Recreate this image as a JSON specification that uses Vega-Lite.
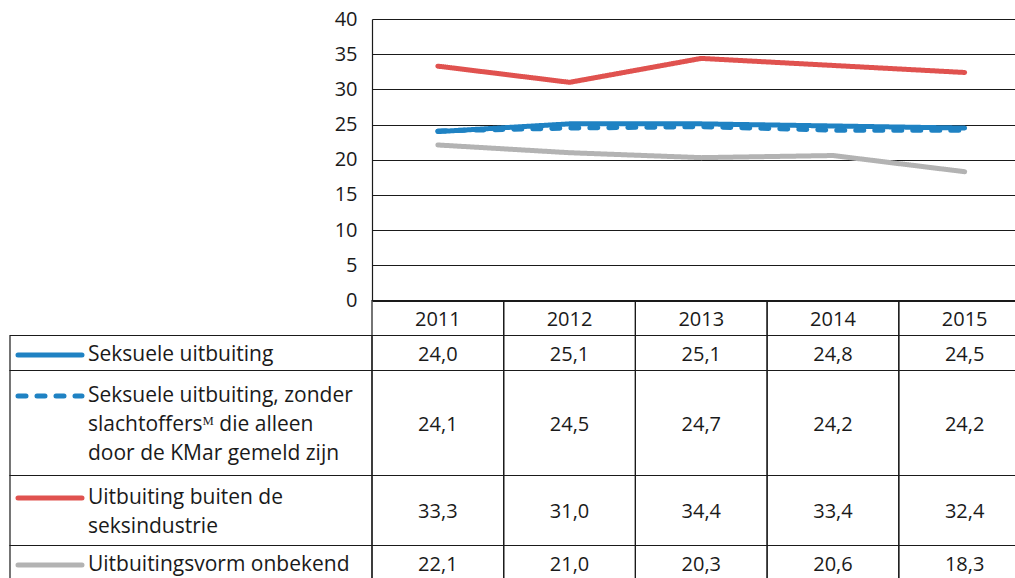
{
  "$schema": "https://vega.github.io/schema/vega-lite/v6.json",
  "width": 643,
  "height": 281.5,
  "autosize": "none",
  "padding": {"left": 372, "top": 19, "right": 0, "bottom": 277.5},
  "background": "white",
  "config": {
    "view": {"stroke": null},
    "locale": {"number": {"decimal": ",", "thousands": ".", "grouping": [3], "currency": ["€ ", ""]}},
    "text": {"font": "Open Sans", "fontSize": 20, "color": "#1a1a1a"}
  },
  "data": {
    "values": [
      {"order": 0, "key": "header", "lines": 1, "label": ""},
      {"order": 1, "key": "s1", "lines": 1, "label": ["Seksuele uitbuiting"], "2011": 24.0, "2012": 25.1, "2013": 25.1, "2014": 24.8, "2015": 24.5},
      {"order": 2, "key": "s2", "lines": 3, "label": ["Seksuele uitbuiting, zonder", "slachtoffersᴹ die alleen", "door de KMar gemeld zijn"], "2011": 24.1, "2012": 24.5, "2013": 24.7, "2014": 24.2, "2015": 24.2},
      {"order": 3, "key": "s3", "lines": 2, "label": ["Uitbuiting buiten de", "seksindustrie"], "2011": 33.3, "2012": 31.0, "2013": 34.4, "2014": 33.4, "2015": 32.4},
      {"order": 4, "key": "s4", "lines": 1, "label": ["Uitbuitingsvorm onbekend"], "2011": 22.1, "2012": 21.0, "2013": 20.3, "2014": 20.6, "2015": 18.3}
    ]
  },
  "transform": [
    {"window": [{"op": "sum", "field": "lines", "as": "end"}], "sort": [{"field": "order"}], "frame": [null, 0]},
    {"calculate": "datum.end - datum.lines", "as": "start"},
    {"calculate": "datum.end - datum.lines / 2", "as": "mid"},
    {"calculate": "datum.mid - (datum.lines - 1) * 29 / 35 / 2", "as": "first"},
    {"fold": ["2011", "2012", "2013", "2014", "2015"], "as": ["year_s", "value"]},
    {"calculate": "toNumber(datum.year_s)", "as": "year"},
    {"calculate": "datum.year - 0.5", "as": "x0"},
    {"calculate": "datum.year + 0.5", "as": "x1"}
  ],
  "layer": [
    {
      "layer": [
        {
          "transform": [{"filter": "datum.order >= 1"}],
          "mark": {"type": "line", "strokeWidth": 5, "strokeCap": "round", "strokeJoin": "round"},
          "encoding": {
            "x": {"field": "year", "type": "quantitative", "scale": {"domain": [2010.5, 2015.3823], "nice": false, "zero": false}, "axis": null},
            "y": {
              "field": "value", "type": "quantitative",
              "scale": {"domain": [0, 40], "nice": false, "zero": false},
              "axis": {
                "values": [0, 5, 10, 15, 20, 25, 30, 35, 40],
                "grid": true, "gridColor": "#1a1a1a", "gridWidth": 1.2, "gridOpacity": 1,
                "domain": true, "domainColor": "#1a1a1a", "domainWidth": 1.2,
                "ticks": false, "tickSize": 0, "labelPadding": 15,
                "labelFont": "Open Sans", "labelFontSize": 20, "labelColor": "#1a1a1a",
                "title": null
              }
            },
            "color": {"field": "key", "type": "nominal", "scale": {"domain": ["s1", "s2", "s3", "s4"], "range": ["#1f82c3", "#1f82c3", "#e0524f", "#b3b3b3"]}, "legend": null},
            "strokeDash": {"field": "key", "type": "nominal", "scale": {"domain": ["s1", "s2", "s3", "s4"], "range": [[1, 0], [8, 11], [1, 0], [1, 0]]}, "legend": null},
            "order": {"field": "year", "type": "quantitative"}
          }
        }
      ]
    },
    {
      "layer": [
        {
          "mark": {"type": "rect", "fill": "white", "fillOpacity": 0, "stroke": "#1a1a1a", "strokeWidth": 1.2},
          "encoding": {
            "x": {"field": "x0", "type": "quantitative", "scale": {"domain": [2010.5, 2015.3823], "nice": false, "zero": false}, "axis": null},
            "x2": {"field": "x1"},
            "y": {"field": "start", "type": "quantitative", "scale": {"domain": [-8.0429, 0], "reverse": true, "nice": false, "zero": false}, "axis": null},
            "y2": {"field": "end"}
          }
        },
        {
          "transform": [{"filter": "datum.order >= 1 && datum.year == 2011"}],
          "mark": {"type": "rect", "fill": "white", "fillOpacity": 0, "stroke": "#1a1a1a", "strokeWidth": 1.2},
          "encoding": {
            "x": {"datum": 2007.7513, "type": "quantitative"},
            "x2": {"datum": 2010.5},
            "y": {"field": "start", "type": "quantitative", "axis": null},
            "y2": {"field": "end"}
          }
        },
        {
          "transform": [{"filter": "datum.order == 0"}],
          "mark": {"type": "text", "align": "center", "baseline": "middle", "dy": 2},
          "encoding": {
            "x": {"field": "year", "type": "quantitative"},
            "y": {"field": "mid", "type": "quantitative", "axis": null},
            "text": {"field": "year_s"}
          }
        },
        {
          "transform": [{"filter": "datum.order >= 1"}],
          "mark": {"type": "text", "align": "center", "baseline": "middle", "dy": 2},
          "encoding": {
            "x": {"field": "year", "type": "quantitative"},
            "y": {"field": "mid", "type": "quantitative", "axis": null},
            "text": {"field": "value", "type": "quantitative", "format": ".1f"}
          }
        },
        {
          "transform": [{"filter": "datum.order >= 1 && datum.year == 2011"}],
          "mark": {"type": "text", "align": "left", "baseline": "middle", "lineHeight": 29, "fontSize": 21, "dy": 2},
          "encoding": {
            "x": {"datum": 2008.3436, "type": "quantitative"},
            "y": {"field": "first", "type": "quantitative", "axis": null},
            "text": {"field": "label"}
          }
        },
        {
          "transform": [{"filter": "datum.order >= 1 && datum.year == 2011"}],
          "mark": {"type": "rule", "strokeWidth": 5, "strokeCap": "round", "yOffset": 2},
          "encoding": {
            "x": {"datum": 2007.8121, "type": "quantitative"},
            "x2": {"datum": 2008.298},
            "y": {"field": "first", "type": "quantitative", "axis": null},
            "color": {"field": "key", "type": "nominal", "legend": null},
            "strokeDash": {"field": "key", "type": "nominal", "legend": null}
          }
        }
      ]
    }
  ],
  "resolve": {"scale": {"y": "independent"}}
}
